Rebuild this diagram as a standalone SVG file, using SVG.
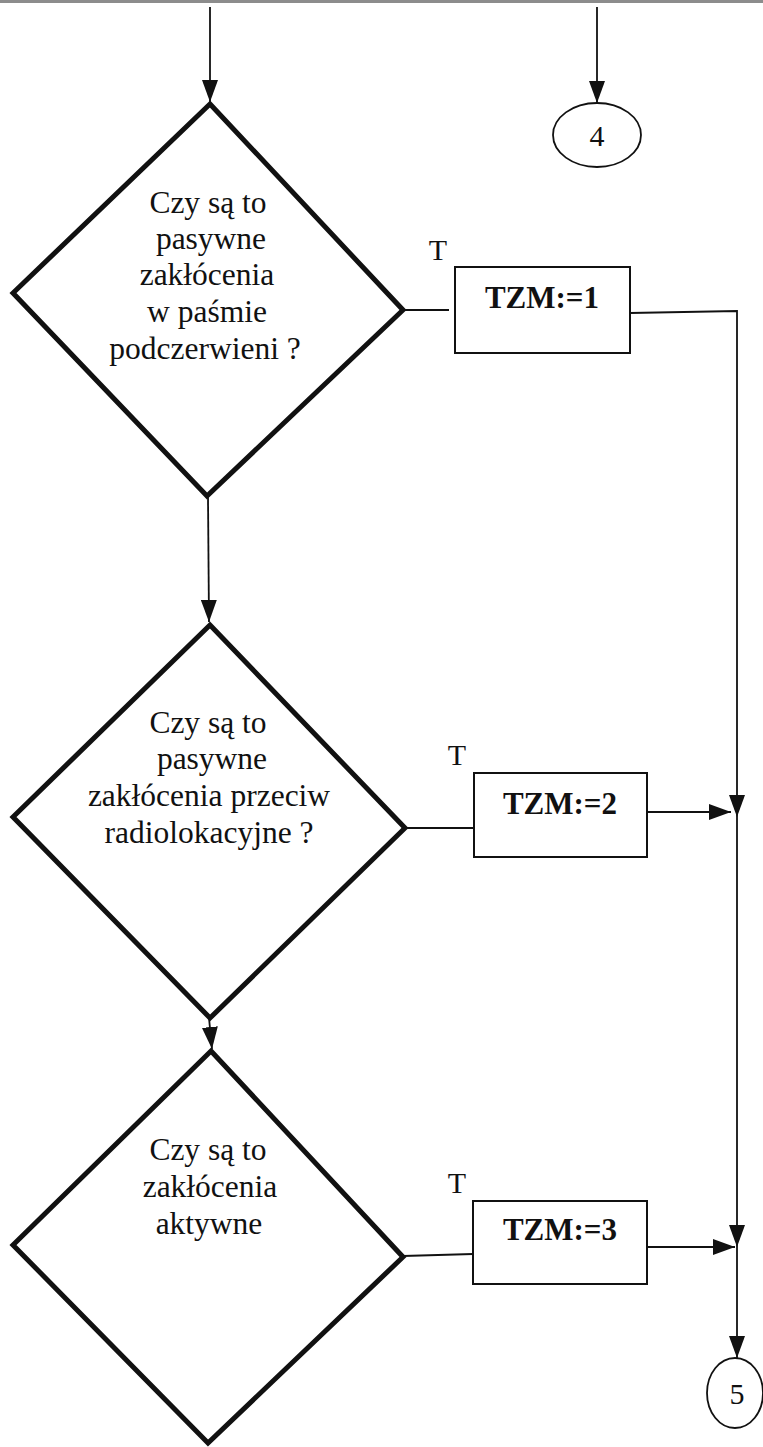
<svg xmlns="http://www.w3.org/2000/svg" width="763" height="1447" viewBox="0 0 763 1447">
  <style>
    .diamond { fill: #fff; stroke: #111; stroke-width: 5; stroke-linejoin: miter; }
    .box { fill: #fff; stroke: #111; stroke-width: 2; }
    .term { fill: #fff; stroke: #111; stroke-width: 1.8; }
    .wire { fill: none; stroke: #111; stroke-width: 1.8; }
    .q { font-family: "Liberation Serif", serif; font-size: 31.5px; fill: #111; text-anchor: middle; }
    .op { font-family: "Liberation Serif", serif; font-size: 31px; font-weight: bold; fill: #111; text-anchor: middle; }
    .lbl { font-family: "Liberation Serif", serif; font-size: 30px; fill: #111; text-anchor: middle; }
  </style>
  <defs>
    <marker id="arrow" viewBox="0 0 22 16" refX="22" refY="8" markerWidth="22" markerHeight="16" markerUnits="userSpaceOnUse" orient="auto">
      <path d="M0,0 L22,8 L0,16 z" fill="#111"/>
    </marker>
  </defs>

  <rect x="0" y="0" width="763" height="3" fill="#8c8c8c"/>

  <g id="connectors">
    <line class="wire" x1="210" y1="7" x2="210" y2="102" marker-end="url(#arrow)"/>
    <line class="wire" x1="597" y1="7" x2="597" y2="103" marker-end="url(#arrow)"/>
    <line class="wire" x1="208" y1="497" x2="209" y2="622" marker-end="url(#arrow)"/>
    <line class="wire" x1="209" y1="1018" x2="212" y2="1049" marker-end="url(#arrow)"/>
    <line class="wire" x1="403" y1="310" x2="449" y2="310"/>
    <line class="wire" x1="405" y1="828" x2="474" y2="828"/>
    <line class="wire" x1="403" y1="1256" x2="473" y2="1254"/>
    <polyline class="wire" points="630,313 737,311 737,817" marker-end="url(#arrow)"/>
    <line class="wire" x1="737" y1="817" x2="737" y2="1247" marker-end="url(#arrow)"/>
    <line class="wire" x1="737" y1="1247" x2="737" y2="1358" marker-end="url(#arrow)"/>
    <line class="wire" x1="647" y1="812" x2="731" y2="812" marker-end="url(#arrow)"/>
    <line class="wire" x1="647" y1="1247" x2="735" y2="1247" marker-end="url(#arrow)"/>
  </g>

  <g id="conn-4">
    <ellipse class="term" cx="597" cy="135" rx="44" ry="32"/>
    <text class="lbl" x="597" y="146">4</text>
  </g>

  <g id="decision-1">
    <polygon class="diamond" points="210,104 403,310 207,496 13,293"/>
    <text class="q" x="208" y="213">Czy są to</text>
    <text class="q" x="211" y="249">pasywne</text>
    <text class="q" x="207" y="285">zakłócenia</text>
    <text class="q" x="207" y="322">w paśmie</text>
    <text class="q" x="205" y="359">podczerwieni ?</text>
  </g>

  <g id="set-1">
    <text class="lbl" x="438" y="260">T</text>
    <rect class="box" x="455" y="267" width="175" height="86"/>
    <text class="op" x="542" y="308">TZM:=1</text>
  </g>

  <g id="decision-2">
    <polygon class="diamond" points="210,625 405,828 210,1018 13,817"/>
    <text class="q" x="208" y="733">Czy są to</text>
    <text class="q" x="212" y="769">pasywne</text>
    <text class="q" x="209" y="806">zakłócenia przeciw</text>
    <text class="q" x="209" y="843">radiolokacyjne ?</text>
  </g>

  <g id="set-2">
    <text class="lbl" x="457" y="765">T</text>
    <rect class="box" x="474" y="773" width="173" height="84"/>
    <text class="op" x="560" y="814">TZM:=2</text>
  </g>

  <g id="decision-3">
    <polygon class="diamond" points="211,1051 403,1257 208,1443 13,1245"/>
    <text class="q" x="208" y="1160">Czy są to</text>
    <text class="q" x="210" y="1197">zakłócenia</text>
    <text class="q" x="209" y="1234">aktywne</text>
  </g>

  <g id="set-3">
    <text class="lbl" x="457" y="1193">T</text>
    <rect class="box" x="473" y="1201" width="174" height="83"/>
    <text class="op" x="560" y="1240">TZM:=3</text>
  </g>

  <g id="conn-5">
    <ellipse class="term" cx="735" cy="1393" rx="28" ry="35"/>
    <text class="lbl" x="737" y="1404">5</text>
  </g>
</svg>
